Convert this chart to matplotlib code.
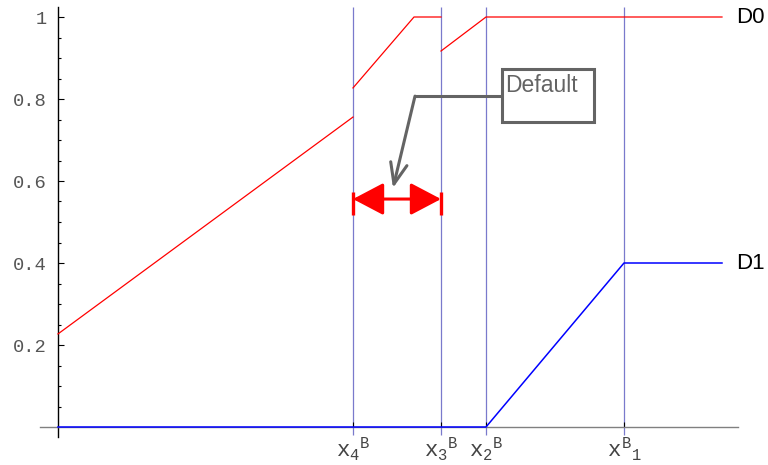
import matplotlib
matplotlib.use("Agg")
import matplotlib.pyplot as plt
import numpy as np
from matplotlib.patches import Rectangle
from matplotlib.ticker import FixedLocator

# ---- data ----
xb_pos = [2.95, 3.83, 4.28, 5.66]
xb_labels = [r"${x_4}^B$", r"${x_3}^B$", r"${x_2}^B$", r"${x^B}_1$"]

# D0 is discontinuous at x4 and x3 (nan splits segments)
d0_x = [0.0, 2.95, np.nan, 2.95, 3.56, 3.83, np.nan, 3.83, 4.28, 6.64]
d0_y = [0.227, 0.756, np.nan, 0.827, 1.0, 1.0, np.nan, 0.917, 1.0, 1.0]
d1_x = [0.0, 4.28, 5.66, 6.64]
d1_y = [0.0, 0.0, 0.4, 0.4]

yticks = [0.2, 0.4, 0.6, 0.8, 1.0]
ytick_labels = ["0.2", "0.4", "0.6", "0.8", "1"]
yminor = [0.05, 0.1, 0.15, 0.25, 0.3, 0.35, 0.45, 0.5, 0.55, 0.65, 0.7, 0.75, 0.85, 0.9, 0.95]

default_interval = (2.95, 3.83)
interval_y = 0.556

plt.rcParams['mathtext.fontset'] = 'custom'
plt.rcParams['mathtext.rm'] = 'Liberation Mono'
plt.rcParams['mathtext.it'] = 'Liberation Mono'
plt.rcParams['mathtext.bf'] = 'Liberation Mono'

fig = plt.figure(figsize=(7.68, 4.65), dpi=100)
ax = fig.add_axes([0, 0, 1, 1])
ax.set_xlim(-0.58, 7.10)
ax.set_ylim(-38 / 410, 1 + 17 / 410)
ax.patch.set_visible(False)

for s in ["top", "right"]:
    ax.spines[s].set_visible(False)
ax.spines["left"].set_position(("data", 0))
ax.spines["bottom"].set_position(("data", 0))
ax.spines["left"].set_bounds(-0.025, 1.025)
ax.spines["bottom"].set_bounds(-0.18, 6.80)
ax.spines["left"].set_color("black")
ax.spines["bottom"].set_color("#808080")
ax.spines["left"].set_linewidth(1.0)
ax.spines["bottom"].set_linewidth(1.0)

ax.yaxis.set_major_locator(FixedLocator(yticks))
ax.set_yticklabels(ytick_labels, family="Liberation Mono", fontsize=13.5, color="#555555")
ax.yaxis.set_minor_locator(FixedLocator(yminor))
ax.tick_params(axis="y", which="major", direction="in", length=4, width=0.8, pad=8, color="black")
ax.tick_params(axis="y", which="minor", direction="in", length=2.2, width=0.8, color="black")

ax.set_xticks(xb_pos)
ax.set_xticklabels(xb_labels, fontsize=16, color="#444444")
ax.tick_params(axis="x", which="major", direction="in", length=3.5, width=0.8, pad=6, color="black")

# vertical reference lines
ax.vlines(xb_pos, -0.02, 1.024, colors="#7a7acc", linewidth=0.9, zorder=1)

# curves
ax.plot(d0_x, d0_y, color="#ff0000", linewidth=0.9, zorder=3)
ax.plot(d1_x, d1_y, color="#0000ff", linewidth=1.1, zorder=3)

ax.text(6.78, 1.0, "D0", fontsize=16, family="Liberation Sans", va="center", ha="left")
ax.text(6.78, 0.4, "D1", fontsize=16, family="Liberation Sans", va="center", ha="left")

# red double arrow for default interval
ax.annotate("", xy=(default_interval[1], interval_y), xytext=(default_interval[0], interval_y),
            arrowprops=dict(arrowstyle="<|-|>,head_length=19,head_width=10", mutation_scale=1,
                            color="#ff0000", lw=2.2, shrinkA=0, shrinkB=0), zorder=4)
ax.vlines(list(default_interval), interval_y - 0.04, interval_y + 0.016, colors="#ff0000",
          linewidth=2.4, zorder=4)

# Default callout
grey = "#646464"
box = Rectangle((4.44, 0.744), 0.92, 0.129, fill=False, edgecolor=grey, linewidth=2.2, zorder=5)
ax.add_patch(box)
ax.text(4.47, 0.817, "Default", fontsize=16.5, family="Liberation Sans", color=grey,
        va="baseline", ha="left", zorder=5)
ax.plot([4.44, 3.57], [0.807, 0.807], color=grey, linewidth=2.2, zorder=5, solid_capstyle="butt")
ax.annotate("", xy=(3.35, 0.583), xytext=(3.57, 0.807),
            arrowprops=dict(arrowstyle="->,head_length=15,head_width=6", mutation_scale=1,
                            color=grey, lw=2.2, shrinkA=0, shrinkB=0), zorder=5)

fig.savefig("out.png", dpi=100)
